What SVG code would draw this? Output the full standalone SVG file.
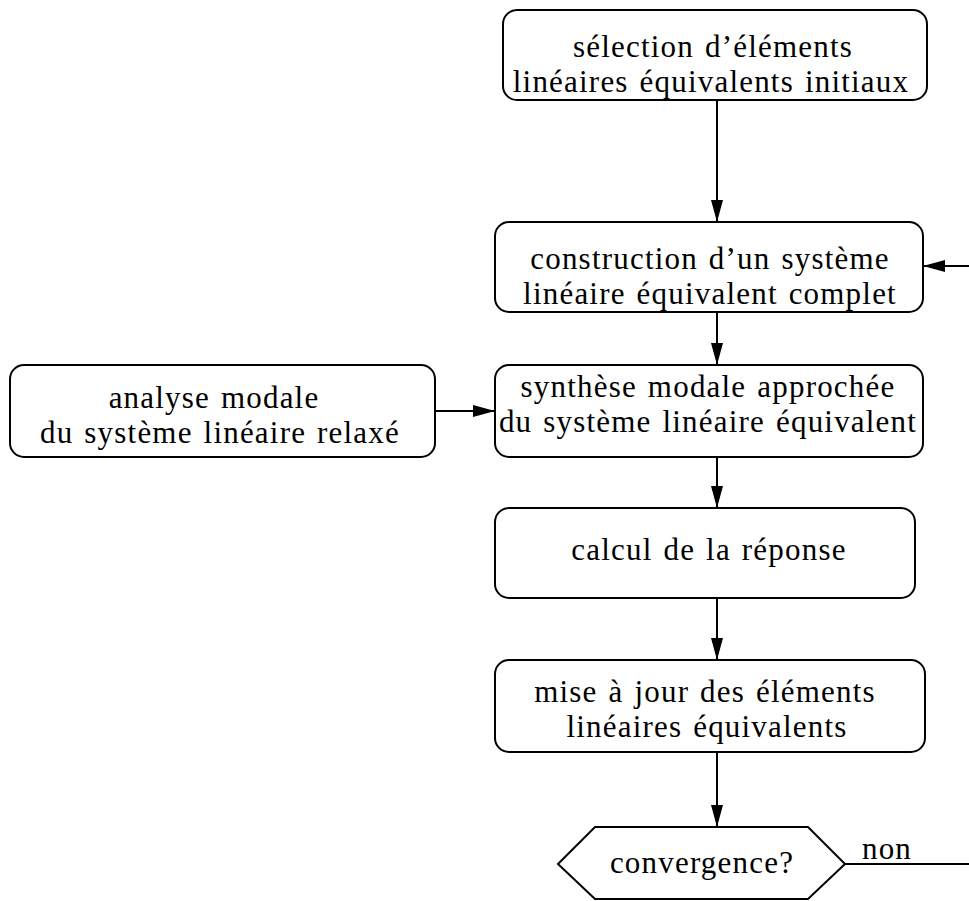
<svg xmlns="http://www.w3.org/2000/svg" width="969" height="901" viewBox="0 0 969 901">
<defs>
<style>
.box{fill:#fff;stroke:#000;stroke-width:2}
.t{font-family:"Liberation Serif","Times New Roman",serif;font-size:31px;letter-spacing:1.2px;word-spacing:2px;fill:#000;text-anchor:middle}
.c{stroke:#000;stroke-width:2;fill:none}
</style>
<marker id="ah" viewBox="0 0 22 12" refX="22" refY="6" markerWidth="22" markerHeight="12" markerUnits="userSpaceOnUse" orient="auto">
<path d="M0,0 L22,6 L0,12 Z" fill="#000"/>
</marker>
</defs>
<rect width="969" height="901" fill="#fff"/>
<g id="connectors">
<line class="c" x1="717" y1="100" x2="717" y2="222" marker-end="url(#ah)"/>
<line class="c" x1="717" y1="312" x2="717" y2="365" marker-end="url(#ah)"/>
<line class="c" x1="717" y1="457" x2="717" y2="508" marker-end="url(#ah)"/>
<line class="c" x1="717" y1="598" x2="717" y2="660" marker-end="url(#ah)"/>
<line class="c" x1="717" y1="752" x2="717" y2="827" marker-end="url(#ah)"/>
<line class="c" x1="435" y1="411" x2="495" y2="411" marker-end="url(#ah)"/>
<line class="c" x1="969" y1="266" x2="923" y2="266" marker-end="url(#ah)"/>
<line class="c" x1="845" y1="864" x2="969" y2="864"/>
<text class="t" x="887" y="859">non</text>
</g>
<g id="n1">
<rect class="box" x="503" y="10" width="424" height="90" rx="14"/>
<text class="t" x="713" y="57">sélection d’éléments</text>
<text class="t" x="711" y="92">linéaires équivalents initiaux</text>
</g>
<g id="n2">
<rect class="box" x="495" y="222" width="428" height="90" rx="14"/>
<text class="t" x="710" y="269">construction d’un système</text>
<text class="t" x="710" y="304">linéaire équivalent complet</text>
</g>
<g id="n3">
<rect class="box" x="495" y="365" width="428" height="92" rx="14"/>
<text class="t" x="708" y="397">synthèse modale approchée</text>
<text class="t" x="708" y="432">du système linéaire équivalent</text>
</g>
<g id="n0">
<rect class="box" x="10" y="365" width="425" height="92" rx="14"/>
<text class="t" x="214" y="408">analyse modale</text>
<text class="t" x="220" y="443">du système linéaire relaxé</text>
</g>
<g id="n4">
<rect class="box" x="495" y="508" width="420" height="90" rx="14"/>
<text class="t" x="709" y="560">calcul de la réponse</text>
</g>
<g id="n5">
<rect class="box" x="495" y="660" width="430" height="92" rx="14"/>
<text class="t" x="705" y="702">mise à jour des éléments</text>
<text class="t" x="707" y="737">linéaires équivalents</text>
</g>
<g id="n6">
<polygon class="box" points="558,864 595,827 808,827 845,864 808,899 595,899"/>
<text class="t" x="702" y="873">convergence?</text>
</g>
</svg>
